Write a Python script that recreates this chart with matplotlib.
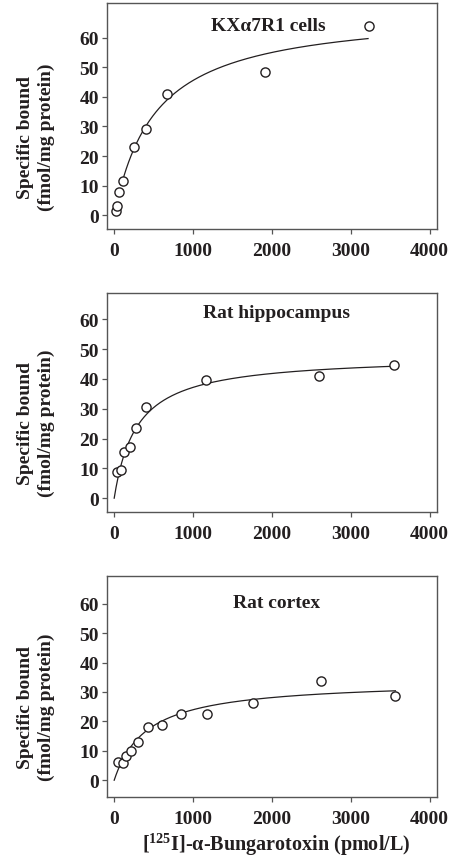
import numpy as np
import matplotlib
matplotlib.use("Agg")
import matplotlib.pyplot as plt

plt.rcParams["font.family"] = ["Liberation Serif", "DejaVu Serif"]
plt.rcParams["font.weight"] = "bold"
plt.rcParams["mathtext.fontset"] = "custom"
plt.rcParams["mathtext.rm"] = "Liberation Serif:bold"
plt.rcParams["mathtext.bf"] = "Liberation Serif:bold"

# KXa7R1 cells
kx_x = [18, 34, 64, 115, 255, 403, 675, 1917, 3237]
kx_y = [1.3, 3.1, 7.9, 11.6, 23.0, 29.2, 41.0, 48.3, 64.1]
kx_fit = {"bmax": 69.4, "kd": 524, "start": 90, "end": 3220}

# rat hippocampus
hip_x = [38, 85, 127, 200, 276, 403, 1163, 2592, 3555]
hip_y = [8.8, 9.6, 15.4, 17.3, 23.6, 30.4, 39.5, 41.0, 44.5]
hip_fit = {"bmax": 47.8, "kd": 287, "start": 0, "end": 3555}

# rat cortex
ctx_x = [51, 106, 148, 212, 297, 424, 607, 844, 1183, 1756, 2617, 3567]
ctx_y = [6.1, 5.8, 8.2, 9.9, 13.1, 18.0, 18.6, 22.4, 22.4, 26.1, 33.8, 28.6]
ctx_fit = {"bmax": 33.95, "kd": 417, "start": 0, "end": 3567}

titles = ["KX\u03b17R1 cells", "Rat hippocampus", "Rat cortex"]
xticks = [0, 1000, 2000, 3000, 4000]
yticks = [0, 10, 20, 30, 40, 50, 60]

ink = "#231f20"
spine = "#555555"
fs = 14

fig = plt.figure(figsize=(4.49, 8.62), dpi=100)

boxes = [
    [0.238, 0.733, 0.735, 0.262],
    [0.238, 0.405, 0.735, 0.254],
    [0.238, 0.0746, 0.735, 0.256],
]
ylims = [(-4.7, 71.6), (-4.6, 68.8), (-5.6, 69.4)]
title_pos = [(0.49, 0.90), (0.515, 0.912), (0.515, 0.88)]
series = [(kx_x, kx_y, kx_fit), (hip_x, hip_y, hip_fit), (ctx_x, ctx_y, ctx_fit)]

for i, (xs, ys, fit) in enumerate(series):
    ax = fig.add_axes(boxes[i])
    xc = np.linspace(fit["start"], fit["end"], 300)
    yc = fit["bmax"] * xc / (fit["kd"] + xc)
    ax.plot(xc, yc, color=ink, lw=0.9, zorder=2)
    ax.plot(xs, ys, "o", ms=6.6, mfc="white", mec=ink, mew=1.0, zorder=3)
    ax.set_xlim(-93, 4093)
    ax.set_ylim(*ylims[i])
    ax.set_xticks(xticks)
    ax.set_yticks(yticks)
    ax.tick_params(direction="out", length=3.6, width=0.9, color=spine,
                   labelsize=fs, labelcolor=ink, pad=2)
    ax.tick_params(axis="x", pad=6)
    for lab in ax.get_xticklabels() + ax.get_yticklabels():
        lab.set_fontweight("bold")
    for s in ax.spines.values():
        s.set_color(spine)
        s.set_linewidth(1.0)
    ax.text(title_pos[i][0], title_pos[i][1], titles[i], transform=ax.transAxes,
            ha="center", va="center", fontsize=fs, fontweight="bold", color=ink)
    ax.text(-0.215, 0.41, "Specific bound\n(fmol/mg protein)", transform=ax.transAxes,
            rotation=90, ha="center", va="center", fontsize=fs,
            fontweight="bold", color=ink, linespacing=1.25)

xlabel = r"[$^{125}$I]-" + "\u03b1-Bungarotoxin (pmol/L)"
fig.text(0.615, 0.02, xlabel, ha="center", va="center", fontsize=14.5,
         fontweight="bold", color=ink)

fig.savefig("out.png", dpi=100)
